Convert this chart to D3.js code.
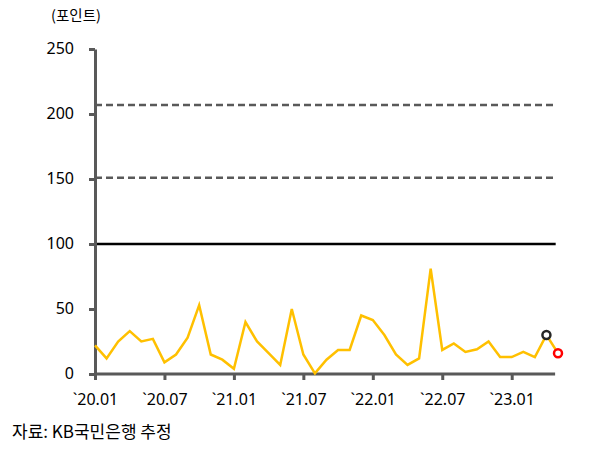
<!DOCTYPE html>
<html><head><meta charset="utf-8">
<script src="https://cdn.jsdelivr.net/npm/d3@7"></script>
<style>body{margin:0;background:#fff}svg{display:block}text{font-family:"Noto Sans CJK KR","Noto Sans",sans-serif;fill:#000}</style>
</head><body><svg id="c" width="596" height="453"></svg>
<script>
const values = [22,12,25,33,25,27,9,15,28,53,15,11,4,40,25,16,7,50,15,0.5,11,18.5,18.5,45,41.5,30,15,7,12,81,18.5,23.5,17,19,25,13,13,17,13,30,16];
const tickMonths = [0,6,12,18,24,30,36];
const tickLabels = ["`20.01","`20.07","`21.01","`21.07","`22.01","`22.07","`23.01"];
const yTicks = [0,50,100,150,200,250];
const refSolid = [100];
const refDashed = [151,207];
const unitLabel = "(포인트)";
const sourceLabel = "자료: KB국민은행 추정";

const svg = d3.select("#c");
const x = d3.scaleLinear().domain([0,40]).range([95,558]);
const y = d3.scaleLinear().domain([0,250]).range([374,49]);
const axisColor = "#595959";
const numFont = "'Noto Sans',sans-serif";

// reference lines
svg.selectAll(".dash").data(refDashed).join("line")
  .attr("x1",x(0)).attr("x2",x(39.8)).attr("y1",d=>y(d)).attr("y2",d=>y(d))
  .attr("stroke",axisColor).attr("stroke-width",2.5).attr("stroke-dasharray","7,4");
svg.selectAll(".solid").data(refSolid).join("line")
  .attr("x1",x(0)).attr("x2",x(39.8)).attr("y1",d=>y(d)).attr("y2",d=>y(d))
  .attr("stroke","#000").attr("stroke-width",2.5);

// y axis
const yAxis = svg.append("g").attr("transform",`translate(${x(0)},0)`)
  .call(d3.axisLeft(y).tickValues(yTicks).tickSize(6).tickPadding(15).tickSizeOuter(0));
yAxis.select(".domain").attr("stroke",axisColor).attr("stroke-width",3);
yAxis.selectAll(".tick line").attr("stroke",axisColor).attr("stroke-width",3);
yAxis.selectAll(".tick text").attr("font-size",16).attr("fill","#000").attr("dy","0.3em")
  .style("font-family",numFont);

// x axis
const xAxis = svg.append("g").attr("transform",`translate(0,${y(0)})`)
  .call(d3.axisBottom(x).tickValues(tickMonths).tickFormat((d,i)=>tickLabels[i]).tickSize(6).tickPadding(14).tickSizeOuter(0));
xAxis.select(".domain").attr("d",`M${x(0)-1},0H${x(39.75)}`).attr("stroke",axisColor).attr("stroke-width",3);
xAxis.selectAll(".tick line").attr("stroke",axisColor).attr("stroke-width",3);
xAxis.selectAll(".tick text").attr("font-size",16).attr("fill","#000")
  .style("font-family",numFont);

// line
svg.append("path").datum(values)
  .attr("d",d3.line().x((d,i)=>x(i)).y(d=>y(d)))
  .attr("fill","none").attr("stroke","#FFC000").attr("stroke-width",2.5).attr("stroke-linejoin","miter");

// markers
const markers = [{i:39,c:"#262626"},{i:40,c:"#FF0000"}];
svg.selectAll(".mk").data(markers).join("circle")
  .attr("cx",d=>x(d.i)).attr("cy",d=>y(values[d.i])).attr("r",4)
  .attr("fill","#fff").attr("stroke",d=>d.c).attr("stroke-width",2.5);

svg.append("text").attr("x",76).attr("y",21).attr("text-anchor","middle").attr("font-size",14.5).text(unitLabel);
svg.append("text").attr("x",12).attr("y",438).attr("font-size",17).text(sourceLabel);
</script></body></html>
